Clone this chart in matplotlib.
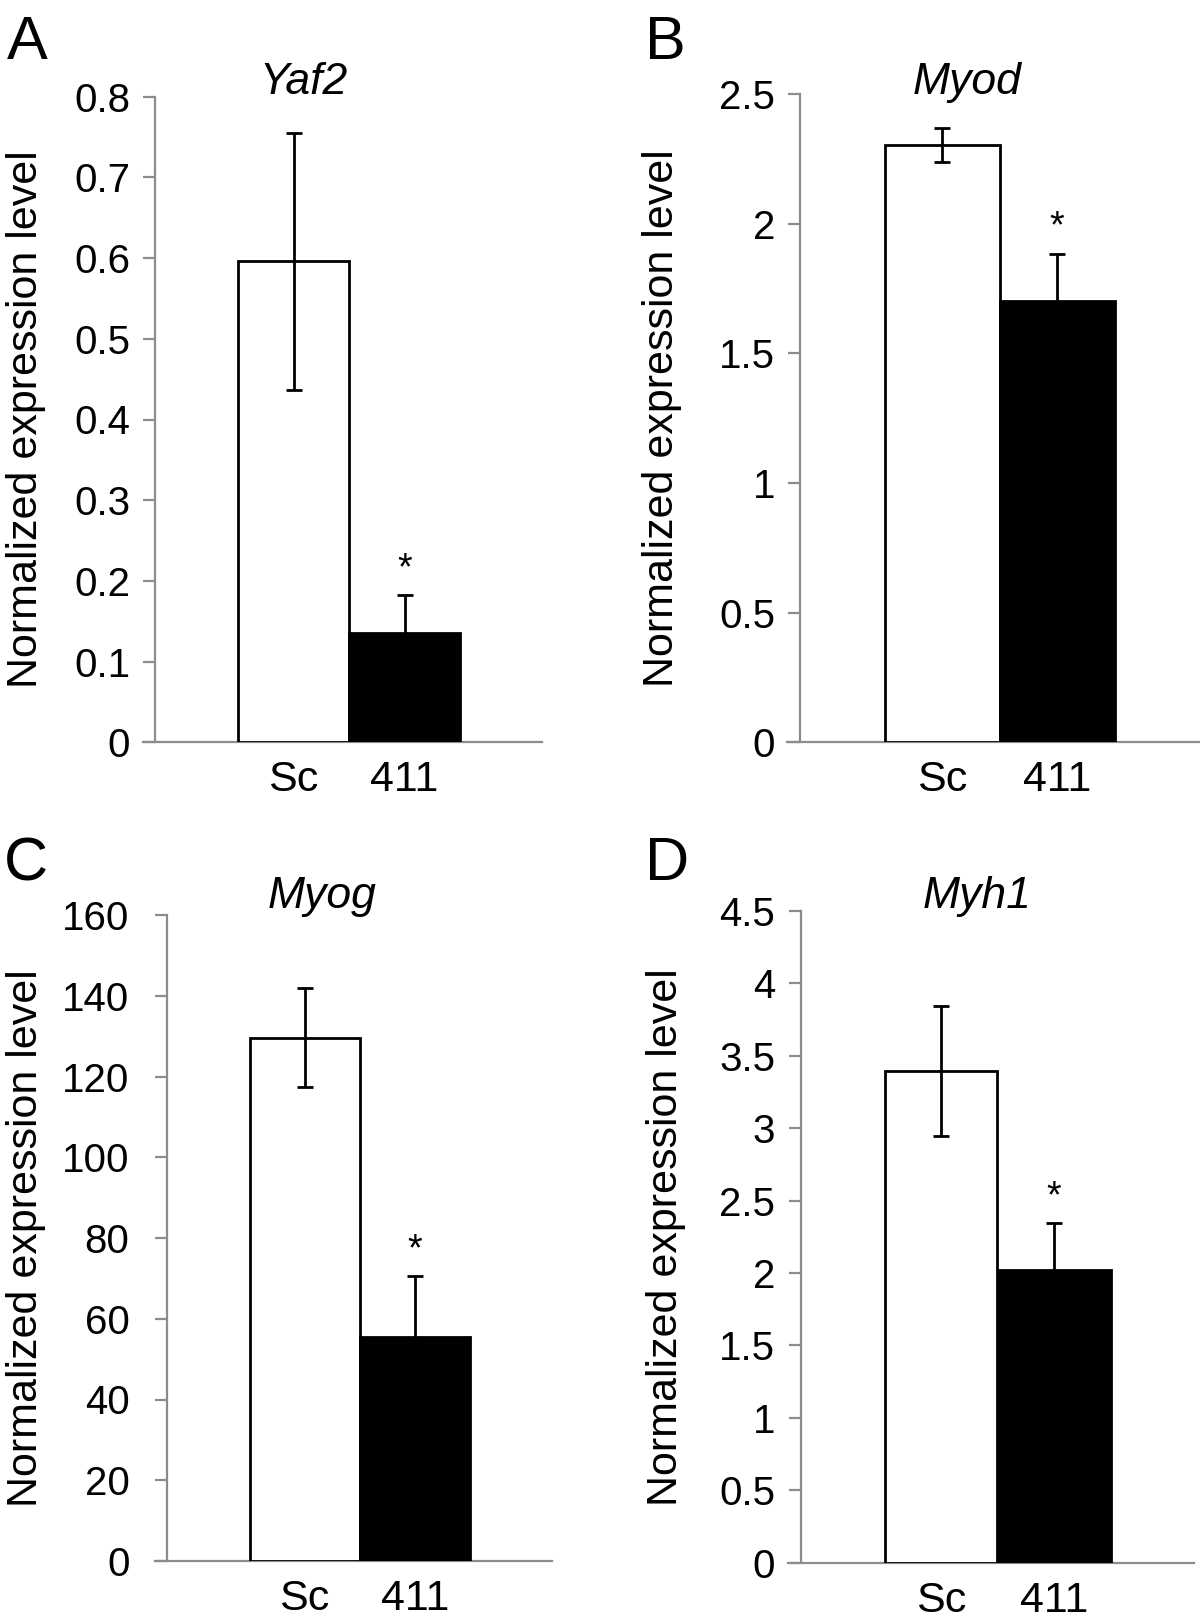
import matplotlib
matplotlib.use("Agg")
import matplotlib.pyplot as plt

plt.rcParams["font.family"] = ["Liberation Sans", "DejaVu Sans"]

# --- data ---
genes = ["Yaf2", "Myod", "Myog", "Myh1"]
letters = ["A", "B", "C", "D"]
groups = ["Sc", "411"]
sc_mean = [0.596, 2.303, 129.6, 3.396]
sc_err = [0.159, 0.067, 12.2, 0.449]
kd_mean = [0.135, 1.703, 55.6, 2.022]
kd_err = [0.047, 0.181, 14.9, 0.322]
y_ticks = [
    [0, 0.1, 0.2, 0.3, 0.4, 0.5, 0.6, 0.7, 0.8],
    [0, 0.5, 1, 1.5, 2, 2.5],
    [0, 20, 40, 60, 80, 100, 120, 140, 160],
    [0, 0.5, 1, 1.5, 2, 2.5, 3, 3.5, 4, 4.5],
]
y_ticklabels = [
    ["0", "0.1", "0.2", "0.3", "0.4", "0.5", "0.6", "0.7", "0.8"],
    ["0", "0.5", "1", "1.5", "2", "2.5"],
    ["0", "20", "40", "60", "80", "100", "120", "140", "160"],
    ["0", "0.5", "1", "1.5", "2", "2.5", "3", "3.5", "4", "4.5"],
]
ylabel = "Normalized expression level"

# --- layout in output pixels (1200 x 1622) ---
W, H = 1200, 1622
LAYOUT = [
    # ax_left, spine, ax_right, top, bottom, white centre, bar width, ytick pad(pt), ylabel x, title x, title base, letter x, letter base
    dict(l=143, s=155, r=542, t=96.7, b=742.3, c0=293.5, bw=111, pad=10.5, lx=6, tx=304, ty=94, kx=7, ky=59),
    dict(l=787, s=800, r=1200, t=94, b=742.3, c0=942, bw=115, pad=10.5, lx=642, tx=967, ty=94, kx=645, ky=59),
    dict(l=155, s=167, r=552, t=915, b=1561, c0=304.7, bw=110, pad=19.5, lx=6, tx=322, ty=908, kx=4, ky=880),
    dict(l=788, s=800.7, r=1194, t=911, b=1562.7, c0=941, bw=113, pad=11, lx=646, tx=977, ty=908, kx=645, ky=880),
]

GRAY = "#8c8c8c"

fig = plt.figure(figsize=(W / 100, H / 100), dpi=100)

for i, lay in enumerate(LAYOUT):
    ax = fig.add_axes([lay["l"] / W, 1 - lay["b"] / H,
                       (lay["r"] - lay["l"]) / W, (lay["b"] - lay["t"]) / H])
    x0 = (lay["l"] - lay["c0"]) / lay["bw"]
    x1 = (lay["r"] - lay["c0"]) / lay["bw"]
    xs = (lay["s"] - lay["c0"]) / lay["bw"]
    ax.set_xlim(x0, x1)
    ax.set_ylim(0, y_ticks[i][-1])

    ax.bar([0], [sc_mean[i]], width=1.0, color="white", edgecolor="black",
           linewidth=2.0, zorder=2)
    ax.bar([1], [kd_mean[i]], width=1.0, color="black", edgecolor="black",
           linewidth=2.0, zorder=2)
    ax.errorbar([0, 1], [sc_mean[i], kd_mean[i]], yerr=[sc_err[i], kd_err[i]],
                fmt="none", ecolor="black", elinewidth=2.0, capsize=5.7,
                capthick=2.0, zorder=3)
    ax.annotate("*", xy=(1, kd_mean[i] + kd_err[i]), xytext=(0, 19),
                textcoords="offset points", ha="center", va="center",
                fontsize=27, zorder=4)

    for side in ("top", "right"):
        ax.spines[side].set_visible(False)
    ax.spines["left"].set_position(("data", xs))
    for side in ("left", "bottom"):
        ax.spines[side].set_color(GRAY)
        ax.spines[side].set_linewidth(1.6)
        ax.spines[side].set_zorder(1)

    ax.set_yticks(y_ticks[i])
    ax.set_yticklabels(y_ticklabels[i])
    ax.tick_params(axis="y", length=8.5, width=1.6, color=GRAY,
                   labelsize=29, pad=lay["pad"] - 1)
    ax.set_xticks([0, 1])
    ax.set_xticklabels(groups)
    ax.tick_params(axis="x", length=0, labelsize=31, pad=13)
    ax.set_facecolor("none")

    fig.text(lay["lx"] / W, 1 - (lay["t"] + lay["b"]) / 2 / H, ylabel,
             rotation=90, ha="left", va="center", fontsize=31)
    fig.text(lay["tx"] / W, 1 - lay["ty"] / H, genes[i], style="italic",
             ha="center", va="baseline", fontsize=32)
    fig.text(lay["kx"] / W, 1 - lay["ky"] / H, letters[i],
             ha="left", va="baseline", fontsize=44)

fig.savefig("out.png", dpi=100)
